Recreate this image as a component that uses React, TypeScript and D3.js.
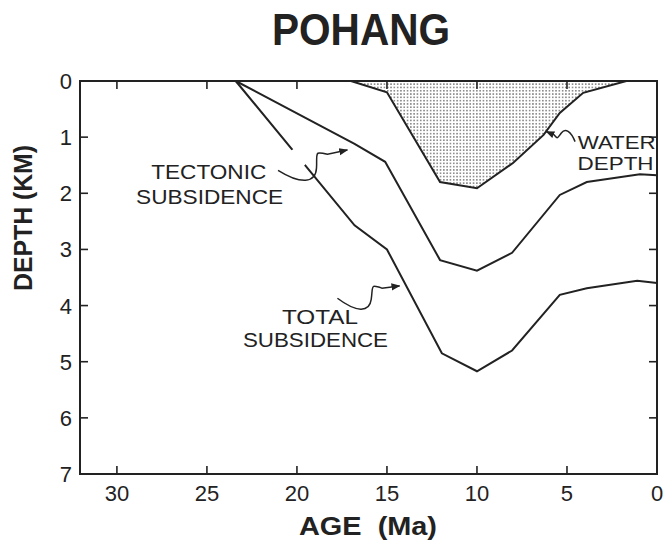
import React from 'react';
import * as d3 from "d3";

// values (age in Ma, depth in km)
const tectonicAge = [23.4, 16.8, 15.1, 12.05, 10, 8.05, 5.4, 3.9, 0.95, 0];
const tectonicDepth = [0, 1.12, 1.44, 3.19, 3.38, 3.06, 2.03, 1.8, 1.66, 1.68];
const totalAge = [23.4, 16.8, 15.0, 11.95, 10, 8.05, 5.4, 3.9, 1.1, 0];
const totalDepth = [0, 2.57, 3.0, 4.85, 5.17, 4.8, 3.81, 3.69, 3.56, 3.6];
const waterAge = [17.0, 15.0, 12.05, 10, 8.0, 6.3, 5.4, 4.1, 1.7];
const waterDepth = [0, 0.2, 1.8, 1.91, 1.46, 0.96, 0.57, 0.21, 0];

const ageTicks = [30, 25, 20, 15, 10, 5, 0];
const depthTicks = [0, 1, 2, 3, 4, 5, 6, 7];

const title = "POHANG";
const xLabel = "AGE  (Ma)";
const yLabel = "DEPTH (KM)";

type pt = [number, number];
const W = 665, H = 542;
const margin = {left: 80, right: 8, top: 81, bottom: 68};
const ink = "#222";
const font = "'Liberation Sans', Arial, sans-serif";

const App = () => {
    const x = d3.scaleLinear().domain([32.05, 0]).range([margin.left, W - margin.right]);
    const y = d3.scaleLinear().domain([0, 7]).range([margin.top, H - margin.bottom]);

    const line = d3.line<pt>().x(d => x(d[0])).y(d => y(d[1]));
    const zip = (a: number[], b: number[]): pt[] => a.map((v, i) => [v, b[i]]);

    const tectonic = zip(tectonicAge, tectonicDepth);
    const total = zip(totalAge, totalDepth);
    const water = zip(waterAge, waterDepth);

    // squiggly annotation arrow from a label to a curve
    const squiggle = (s: pt, e: pt) => {
        const [sx, sy] = [x(s[0]), y(s[1])];
        const [ex, ey] = [x(e[0]), y(e[1])];
        const dx = ex - sx, dy = ey - sy;
        const L = Math.hypot(dx, dy);
        const nx = -dy / L, ny = dx / L;
        const p = (t: number, k: number) => [sx + t * dx + k * L * nx, sy + t * dy + k * L * ny].join(",");
        return "M" + sx + "," + sy +
            " C" + p(0.25, 0.28) + " " + p(0.45, 0.32) + " " + p(0.52, 0.12) +
            " S" + p(0.55, -0.12) + " " + p(0.72, -0.02) +
            " L" + ex + "," + ey;
    };

    const x0 = margin.left, x1 = W - margin.right;
    const y0 = margin.top, y1 = H - margin.bottom;

    return (
        <div style={{position: "absolute", left: 0, top: 0}}>
            <svg width={W} height={H} style={{display: "block", background: "white"}}>
                <defs>
                    <pattern id="dots" width={3.3} height={3.3} patternUnits="userSpaceOnUse">
                        <circle cx={1.65} cy={1.65} r={0.8} fill="#666"/>
                    </pattern>
                    <marker id="head" viewBox="0 0 10 10" refX={9} refY={5} markerWidth={9} markerHeight={9}
                            markerUnits="userSpaceOnUse" orient="auto">
                        <path d="M0,1 L10,5 L0,9 Z" fill={ink}/>
                    </marker>
                </defs>

                <text x={361} y={45} textAnchor="middle" fontFamily={font} fontWeight="bold"
                      fontSize={44} textLength={178} lengthAdjust="spacingAndGlyphs" fill={ink}>{title}</text>

                {/* water depth */}
                <path d={line([...water, [waterAge[0], 0]]) + "Z"} fill="url(#dots)" stroke="none"/>
                <path d={line(water) || ""} fill="none" stroke={ink} strokeWidth={2}/>

                <path d={line(tectonic) || ""} fill="none" stroke={ink} strokeWidth={2}/>
                <path d={line(total) || ""} fill="none" stroke={ink} strokeWidth={2}/>

                {/* frame */}
                <rect x={x0} y={y0} width={x1 - x0} height={y1 - y0} fill="none" stroke={ink} strokeWidth={2}/>

                {ageTicks.filter(t => t > 0).map(t =>
                    <g key={"xt" + t}>
                        <line x1={x(t)} x2={x(t)} y1={y1} y2={y1 - 8} stroke={ink} strokeWidth={1.6}/>
                        <line x1={x(t)} x2={x(t)} y1={y0} y2={y0 + 8} stroke={ink} strokeWidth={1.6}/>
                    </g>
                )}
                {ageTicks.map(t =>
                    <text key={"xl" + t} x={x(t)} y={501} textAnchor="middle" fontFamily={font}
                          fontSize={22} fill={ink}>{t}</text>
                )}
                {depthTicks.filter(t => t > 0 && t < 7).map(t =>
                    <g key={"yt" + t}>
                        <line x1={x0} x2={x0 + 8} y1={y(t)} y2={y(t)} stroke={ink} strokeWidth={1.6}/>
                        <line x1={x1} x2={x1 - 8} y1={y(t)} y2={y(t)} stroke={ink} strokeWidth={1.6}/>
                    </g>
                )}
                {depthTicks.map(t =>
                    <text key={"yl" + t} x={72} y={y(t) + 8} textAnchor="end" fontFamily={font}
                          fontSize={22} fill={ink}>{t}</text>
                )}

                <text x={368} y={535} textAnchor="middle" fontFamily={font} fontWeight="bold"
                      fontSize={25} textLength={138} lengthAdjust="spacingAndGlyphs" fill={ink}
                      style={{whiteSpace: "pre"}}>{xLabel}</text>
                <text transform="translate(32,218) rotate(-90)" textAnchor="middle" fontFamily={font}
                      fontWeight="bold" fontSize={26} textLength={146} lengthAdjust="spacingAndGlyphs"
                      fill={ink}>{yLabel}</text>

                {/* gap in the total curve where the arrow crosses */}
                <circle cx={x(19.95)} cy={y(1.37)} r={10} fill="white"/>

                {/* annotations */}
                <g fontFamily={font} fontSize={21} fill={ink} textAnchor="middle">
                    <text x={x(24.9)} y={y(1.75)} textLength={115} lengthAdjust="spacingAndGlyphs">TECTONIC</text>
                    <text x={x(24.85)} y={y(2.19)} textLength={147} lengthAdjust="spacingAndGlyphs">SUBSIDENCE</text>
                    <text x={x(18.72)} y={y(4.33)} textLength={76} lengthAdjust="spacingAndGlyphs">TOTAL</text>
                    <text x={x(18.97)} y={y(4.74)} textLength={145} lengthAdjust="spacingAndGlyphs">SUBSIDENCE</text>
                </g>
                <g fontFamily={font} fontSize={18} fill={ink} textAnchor="middle">
                    <text x={x(2.24)} y={y(1.21)} textLength={78} lengthAdjust="spacingAndGlyphs">WATER</text>
                    <text x={x(2.3)} y={y(1.59)} textLength={76} lengthAdjust="spacingAndGlyphs">DEPTH</text>
                </g>
                <g fill="none" stroke={ink} strokeWidth={1.5}>
                    <path d={squiggle([21.05, 1.59], [17.2, 1.23])} markerEnd="url(#head)"/>
                    <path d={squiggle([17.75, 3.87], [14.3, 3.65])} markerEnd="url(#head)"/>
                    <path d={squiggle([4.55, 1.08], [6.15, 0.9])} markerEnd="url(#head)"/>
                </g>
            </svg>
        </div>
    );
};

export default App;
